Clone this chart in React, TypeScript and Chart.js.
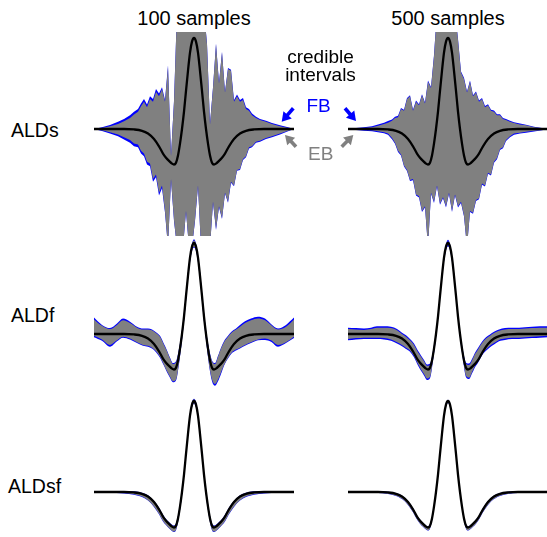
import React, { useEffect, useRef } from "react";
import { Chart, registerables } from "chart.js";

Chart.register(...registerables);

// ---------- shared x grids ----------
const xLine = [-100,-85,-70,-60,-52,-46,-40,-35,-31,-28,-25,-22,-20,-18,-16,-14,-12,-10,-8,-6,-4,-2,0,2,4,6,8,10,12,14,16,18,20,22,25,28,31,35,40,46,52,60,70,85,100];
const trueFilter = [0,0,0,-0.005,-0.02,-0.05,-0.11,-0.19,-0.27,-0.315,-0.35,-0.38,-0.39,-0.37,-0.29,-0.16,0.0,0.19,0.42,0.64,0.84,0.96,1.0,0.96,0.84,0.64,0.42,0.19,0.0,-0.16,-0.29,-0.37,-0.39,-0.38,-0.35,-0.315,-0.27,-0.19,-0.11,-0.05,-0.02,-0.005,0,0,0];

// ---------- ALDs (noisy) ----------
const xNoisy = [-100,-92,-84,-76,-70,-64,-60,-56,-53,-50,-47,-44,-41,-38,-35,-32,-29,-26,-23,-20,-17,-14,-11,-8,-5,-2,1,4,7,10,13,16,19,22,25,28,31,34,37,40,43,46,49,52,55,58,62,66,72,78,86,94,100];
const alds100EbUpper = [0,0.012,0.03,0.055,0.085,0.12,0.16,0.19,0.25,0.3,0.24,0.33,0.3,0.41,0.36,0.44,0.3,0.68,-0.3,0.3,1.3,1.3,1.3,1.3,1.3,1.3,1.3,1.3,1.3,1.3,0.93,0.05,0.45,0.93,0.5,0.84,0.4,0.66,0.64,0.3,0.36,0.3,0.32,0.22,0.2,0.15,0.12,0.1,0.08,0.055,0.03,0.012,0];
const alds100EbLower = [0,-0.015,-0.035,-0.06,-0.09,-0.12,-0.16,-0.17,-0.24,-0.27,-0.36,-0.38,-0.55,-0.5,-0.7,-0.62,-0.9,-1.3,-0.55,-1.0,-1.3,-1.3,-1.3,-0.9,-1.3,-1.3,-1.0,-0.62,-1.3,-1.3,-1.3,-1.3,-0.8,-1.1,-0.85,-0.98,-0.7,-0.8,-0.58,-0.62,-0.45,-0.44,-0.33,-0.3,-0.2,-0.19,-0.14,-0.13,-0.1,-0.08,-0.05,-0.02,0];
const alds100FbUpper = [0,0.02,0.045,0.08,0.11,0.15,0.19,0.22,0.28,0.33,0.27,0.36,0.33,0.44,0.39,0.46,0.32,0.7,-0.29,0.31,1.3,1.3,1.3,1.3,1.3,1.3,1.3,1.3,1.3,1.3,0.94,0.06,0.46,0.94,0.51,0.85,0.41,0.67,0.65,0.32,0.38,0.32,0.34,0.24,0.22,0.17,0.135,0.11,0.09,0.065,0.04,0.018,0];
const alds100FbLower = [0,-0.022,-0.05,-0.08,-0.115,-0.15,-0.19,-0.2,-0.27,-0.3,-0.39,-0.41,-0.58,-0.53,-0.73,-0.65,-0.92,-1.3,-0.56,-1.01,-1.3,-1.3,-1.3,-0.91,-1.3,-1.3,-1.01,-0.63,-1.3,-1.3,-1.3,-1.3,-0.81,-1.11,-0.86,-0.99,-0.71,-0.81,-0.59,-0.63,-0.46,-0.45,-0.34,-0.31,-0.215,-0.2,-0.15,-0.14,-0.11,-0.09,-0.06,-0.025,0];

const alds500EbUpper = [0,0.005,0.01,0.02,0.035,0.055,0.07,0.09,0.12,0.13,0.22,0.2,0.33,0.36,0.2,0.3,0.26,0.37,0.28,0.52,0.45,0.8,1.3,1.3,1.3,1.3,1.3,1.3,1.3,0.98,0.62,0.55,0.4,0.52,0.36,0.4,0.3,0.33,0.24,0.26,0.2,0.19,0.15,0.15,0.11,0.1,0.08,0.065,0.05,0.04,0.02,0.008,0];
const alds500EbLower = [0,-0.005,-0.01,-0.015,-0.025,-0.035,-0.05,-0.1,-0.15,-0.24,-0.28,-0.4,-0.45,-0.56,-0.55,-0.72,-0.74,-0.9,-0.85,-1.3,-0.7,-0.8,-0.62,-0.82,-0.75,-0.85,-0.7,-0.9,-0.72,-0.85,-0.8,-0.95,-1.3,-0.9,-0.92,-0.78,-0.76,-0.6,-0.62,-0.48,-0.5,-0.36,-0.32,-0.22,-0.2,-0.12,-0.08,-0.05,-0.04,-0.03,-0.02,-0.01,0];
const alds500FbUpper = [0,0.01,0.018,0.03,0.05,0.07,0.088,0.105,0.135,0.145,0.232,0.212,0.342,0.372,0.212,0.312,0.272,0.382,0.292,0.532,0.462,0.812,1.3,1.3,1.3,1.3,1.3,1.3,1.3,0.99,0.632,0.562,0.412,0.532,0.372,0.412,0.312,0.342,0.252,0.272,0.212,0.202,0.162,0.162,0.122,0.11,0.09,0.075,0.06,0.048,0.026,0.012,0];
const alds500FbLower = [0,-0.01,-0.018,-0.025,-0.037,-0.047,-0.062,-0.112,-0.162,-0.252,-0.292,-0.412,-0.462,-0.572,-0.562,-0.732,-0.752,-0.912,-0.862,-1.3,-0.712,-0.812,-0.632,-0.832,-0.762,-0.862,-0.712,-0.912,-0.732,-0.862,-0.812,-0.962,-1.3,-0.912,-0.932,-0.792,-0.772,-0.612,-0.632,-0.492,-0.512,-0.372,-0.332,-0.232,-0.212,-0.132,-0.092,-0.062,-0.05,-0.04,-0.028,-0.015,0];

// ---------- ALDf (wiggly) ----------
const xWiggle = [-100,-92,-84,-77,-71,-64,-57,-51,-46,-42,-38,-34,-30,-27,-24,-21,-18,-15,-12,-9,-6,-3,0,3,6,9,12,15,18,21,24,27,30,34,38,42,46,51,57,64,71,77,84,92,100];
const aldf100EbUpper = [0.16,0.09,0.055,0.1,0.15,0.12,0.07,0.05,0.05,0.04,0.01,-0.03,-0.12,-0.19,-0.27,-0.33,-0.31,-0.17,0.04,0.34,0.68,0.93,1.03,0.93,0.68,0.34,0.04,-0.17,-0.3,-0.33,-0.25,-0.16,-0.09,-0.03,0.02,0.05,0.08,0.12,0.15,0.17,0.15,0.1,0.05,0.08,0.16];
const aldf100EbLower = [-0.02,-0.06,-0.12,-0.07,-0.03,-0.05,-0.09,-0.12,-0.13,-0.15,-0.19,-0.25,-0.34,-0.41,-0.47,-0.52,-0.5,-0.32,-0.06,0.25,0.6,0.87,0.96,0.87,0.6,0.25,-0.06,-0.33,-0.5,-0.55,-0.5,-0.42,-0.34,-0.26,-0.2,-0.17,-0.15,-0.12,-0.09,-0.06,-0.05,-0.07,-0.12,-0.09,-0.03];
const aldf100FbUpper = [0.18,0.1,0.065,0.115,0.17,0.135,0.08,0.06,0.06,0.05,0.02,-0.02,-0.11,-0.18,-0.26,-0.32,-0.3,-0.16,0.05,0.35,0.69,0.94,1.04,0.94,0.69,0.35,0.05,-0.16,-0.29,-0.32,-0.24,-0.15,-0.08,-0.02,0.03,0.06,0.1,0.14,0.17,0.19,0.17,0.11,0.06,0.1,0.18];
const aldf100FbLower = [-0.035,-0.075,-0.14,-0.08,-0.04,-0.06,-0.1,-0.13,-0.14,-0.16,-0.2,-0.26,-0.35,-0.42,-0.48,-0.53,-0.51,-0.33,-0.07,0.24,0.59,0.86,0.95,0.86,0.59,0.24,-0.07,-0.34,-0.52,-0.57,-0.52,-0.44,-0.35,-0.27,-0.21,-0.18,-0.16,-0.13,-0.1,-0.07,-0.065,-0.085,-0.14,-0.1,-0.045];

const aldf500EbUpper = [0.055,0.05,0.045,0.055,0.07,0.07,0.065,0.04,0.0,-0.03,-0.07,-0.12,-0.2,-0.25,-0.3,-0.35,-0.34,-0.2,0.02,0.32,0.66,0.92,1.02,0.92,0.66,0.32,0.02,-0.2,-0.33,-0.34,-0.29,-0.22,-0.17,-0.1,-0.05,-0.02,0.01,0.035,0.05,0.055,0.055,0.06,0.065,0.07,0.07];
const aldf500EbLower = [-0.055,-0.045,-0.04,-0.04,-0.04,-0.045,-0.06,-0.09,-0.12,-0.15,-0.18,-0.24,-0.33,-0.39,-0.44,-0.49,-0.47,-0.28,-0.03,0.28,0.62,0.88,0.98,0.88,0.62,0.28,-0.03,-0.27,-0.46,-0.48,-0.42,-0.35,-0.3,-0.22,-0.17,-0.13,-0.1,-0.065,-0.05,-0.04,-0.04,-0.035,-0.03,-0.025,-0.02];
const aldf500FbUpper = [0.07,0.065,0.06,0.07,0.085,0.085,0.08,0.055,0.015,-0.015,-0.055,-0.105,-0.185,-0.235,-0.285,-0.335,-0.325,-0.185,0.035,0.335,0.675,0.935,1.035,0.935,0.675,0.335,0.035,-0.185,-0.315,-0.325,-0.275,-0.205,-0.155,-0.085,-0.035,-0.005,0.025,0.05,0.065,0.07,0.07,0.075,0.08,0.085,0.085];
const aldf500FbLower = [-0.07,-0.06,-0.055,-0.055,-0.055,-0.06,-0.075,-0.105,-0.135,-0.165,-0.195,-0.255,-0.345,-0.405,-0.455,-0.505,-0.485,-0.295,-0.045,0.265,0.605,0.865,0.965,0.865,0.605,0.265,-0.045,-0.285,-0.475,-0.495,-0.435,-0.365,-0.315,-0.235,-0.185,-0.145,-0.115,-0.08,-0.065,-0.055,-0.055,-0.05,-0.045,-0.04,-0.035];

// ---------- ALDsf (tight) ----------
const aldsf100EbUpper = [0.008,0.008,0.008,0.004,-0.012,-0.04,-0.1,-0.175,-0.255,-0.3,-0.335,-0.365,-0.372,-0.348,-0.262,-0.13,0.03,0.22,0.45,0.67,0.87,0.985,1.02,0.985,0.87,0.67,0.45,0.22,0.03,-0.13,-0.262,-0.348,-0.372,-0.365,-0.335,-0.3,-0.255,-0.175,-0.1,-0.04,-0.012,0.004,0.008,0.008,0.008];
const aldsf100EbLower = [-0.008,-0.008,-0.012,-0.025,-0.05,-0.09,-0.16,-0.24,-0.32,-0.36,-0.395,-0.425,-0.435,-0.415,-0.33,-0.2,-0.04,0.16,0.39,0.61,0.81,0.935,0.975,0.935,0.81,0.61,0.39,0.16,-0.04,-0.2,-0.33,-0.415,-0.435,-0.425,-0.395,-0.36,-0.32,-0.24,-0.16,-0.09,-0.05,-0.025,-0.012,-0.008,-0.008];
const aldsf100FbUpper = [0.012,0.012,0.012,0.008,-0.008,-0.036,-0.096,-0.171,-0.251,-0.296,-0.331,-0.361,-0.368,-0.344,-0.258,-0.126,0.034,0.224,0.454,0.674,0.874,0.989,1.024,0.989,0.874,0.674,0.454,0.224,0.034,-0.126,-0.258,-0.344,-0.368,-0.361,-0.331,-0.296,-0.251,-0.171,-0.096,-0.036,-0.008,0.008,0.012,0.012,0.012];
const aldsf100FbLower = [-0.012,-0.012,-0.016,-0.029,-0.054,-0.094,-0.164,-0.244,-0.324,-0.364,-0.399,-0.429,-0.439,-0.419,-0.334,-0.204,-0.044,0.156,0.386,0.606,0.806,0.931,0.971,0.931,0.806,0.606,0.386,0.156,-0.044,-0.204,-0.334,-0.419,-0.439,-0.429,-0.399,-0.364,-0.324,-0.244,-0.164,-0.094,-0.054,-0.029,-0.016,-0.012,-0.012];

const aldsf500EbUpper = [0.005,0.005,0.005,0.0,-0.014,-0.043,-0.102,-0.18,-0.26,-0.305,-0.34,-0.37,-0.378,-0.355,-0.275,-0.145,0.015,0.205,0.435,0.655,0.855,0.975,1.012,0.975,0.855,0.655,0.435,0.205,0.015,-0.145,-0.275,-0.355,-0.378,-0.37,-0.34,-0.305,-0.26,-0.18,-0.102,-0.043,-0.014,0.0,0.005,0.005,0.005];
const aldsf500EbLower = [-0.005,-0.005,-0.008,-0.018,-0.04,-0.075,-0.14,-0.22,-0.3,-0.345,-0.38,-0.41,-0.42,-0.4,-0.315,-0.18,-0.02,0.17,0.4,0.62,0.82,0.94,0.98,0.94,0.82,0.62,0.4,0.17,-0.02,-0.18,-0.315,-0.4,-0.42,-0.41,-0.38,-0.345,-0.3,-0.22,-0.14,-0.075,-0.04,-0.018,-0.008,-0.005,-0.005];
const aldsf500FbUpper = [0.008,0.008,0.008,0.003,-0.011,-0.04,-0.099,-0.177,-0.257,-0.302,-0.337,-0.367,-0.375,-0.352,-0.272,-0.142,0.018,0.208,0.438,0.658,0.858,0.978,1.015,0.978,0.858,0.658,0.438,0.208,0.018,-0.142,-0.272,-0.352,-0.375,-0.367,-0.337,-0.302,-0.257,-0.177,-0.099,-0.04,-0.011,0.003,0.008,0.008,0.008];
const aldsf500FbLower = [-0.008,-0.008,-0.011,-0.021,-0.043,-0.078,-0.143,-0.223,-0.303,-0.348,-0.383,-0.413,-0.423,-0.403,-0.318,-0.183,-0.023,0.167,0.397,0.617,0.817,0.937,0.977,0.937,0.817,0.617,0.397,0.167,-0.023,-0.183,-0.318,-0.403,-0.423,-0.413,-0.383,-0.348,-0.303,-0.223,-0.143,-0.078,-0.043,-0.021,-0.011,-0.008,-0.008];

const columnTitles = ["100 samples", "500 samples"];
const rowLabels = ["ALDs", "ALDf", "ALDsf"];

// ---------- layout ----------
const UNIT = 91;
const X_MIN = -100;
const X_MAX = 100;
const GRAY = "#808080";
const BLUE = "#0000ff";

type PanelDef = {
  cx: number; baseline: number; top: number; bottom: number;
  xs: number[]; ebU: number[]; ebL: number[]; fbU: number[]; fbL: number[];
  smooth: boolean;
};

const pts = (xs: number[], ys: number[]) => xs.map((x, i) => ({ x, y: ys[i] }));

function Panel({ def }: { def: PanelDef }) {
  const ref = useRef<HTMLCanvasElement>(null);
  const width = X_MAX - X_MIN;
  const height = def.bottom - def.top;
  const ymax = (def.baseline - def.top) / UNIT;
  const ymin = (def.baseline - def.bottom) / UNIT;
  useEffect(() => {
    if (!ref.current) return;
    const bandInterp = def.smooth ? "monotone" : "default";
    const clear = "rgba(0,0,0,0)";
    const chart = new Chart(ref.current, {
      type: "line",
      data: {
        datasets: [
          { data: pts(xLine, trueFilter), borderColor: "#000", borderWidth: 2.3, fill: false, pointRadius: 0, cubicInterpolationMode: "monotone" },
          { data: pts(def.xs, def.ebU), borderColor: clear, borderWidth: 1, backgroundColor: GRAY, fill: "+1", pointRadius: 0, cubicInterpolationMode: bandInterp, tension: 0 },
          { data: pts(def.xs, def.ebL), borderColor: clear, borderWidth: 1, fill: false, pointRadius: 0, cubicInterpolationMode: bandInterp, tension: 0 },
          { data: pts(def.xs, def.fbU), borderColor: clear, borderWidth: 1, backgroundColor: BLUE, fill: "+1", pointRadius: 0, cubicInterpolationMode: bandInterp, tension: 0 },
          { data: pts(def.xs, def.fbL), borderColor: clear, borderWidth: 1, fill: false, pointRadius: 0, cubicInterpolationMode: bandInterp, tension: 0 },
        ] as any,
      },
      options: {
        animation: false,
        responsive: false,
        maintainAspectRatio: false,
        events: [],
        layout: { padding: 0 },
        scales: {
          x: { type: "linear", min: X_MIN, max: X_MAX, display: false },
          y: { type: "linear", min: ymin, max: ymax, display: false },
        },
        plugins: { legend: { display: false }, tooltip: { enabled: false } },
      },
    });
    return () => chart.destroy();
  }, []);
  return (
    <canvas
      ref={ref}
      width={width}
      height={height}
      style={{ position: "absolute", left: Math.round(def.cx + X_MIN), top: def.top, width, height }}
    />
  );
}

const panels: PanelDef[] = [
  { cx: 194, baseline: 129, top: 32, bottom: 236, xs: xNoisy, ebU: alds100EbUpper, ebL: alds100EbLower, fbU: alds100FbUpper, fbL: alds100FbLower, smooth: false },
  { cx: 448, baseline: 129, top: 32, bottom: 236, xs: xNoisy, ebU: alds500EbUpper, ebL: alds500EbLower, fbU: alds500FbUpper, fbL: alds500FbLower, smooth: false },
  { cx: 194, baseline: 334, top: 225, bottom: 400, xs: xWiggle, ebU: aldf100EbUpper, ebL: aldf100EbLower, fbU: aldf100FbUpper, fbL: aldf100FbLower, smooth: true },
  { cx: 448, baseline: 334, top: 225, bottom: 400, xs: xWiggle, ebU: aldf500EbUpper, ebL: aldf500EbLower, fbU: aldf500FbUpper, fbL: aldf500FbLower, smooth: true },
  { cx: 194, baseline: 492, top: 390, bottom: 537, xs: xLine, ebU: aldsf100EbUpper, ebL: aldsf100EbLower, fbU: aldsf100FbUpper, fbL: aldsf100FbLower, smooth: true },
  { cx: 448, baseline: 492, top: 390, bottom: 537, xs: xLine, ebU: aldsf500EbUpper, ebL: aldsf500EbLower, fbU: aldsf500FbUpper, fbL: aldsf500FbLower, smooth: true },
];

function Arrow({ x1, y1, x2, y2, color }: { x1: number; y1: number; x2: number; y2: number; color: string }) {
  const dx = x2 - x1, dy = y2 - y1;
  const len = Math.hypot(dx, dy);
  const ux = dx / len, uy = dy / len;
  const head = 9, half = 5.5;
  const bx = x2 - ux * head, by = y2 - uy * head;
  const px = -uy, py = ux;
  return (
    <g>
      <line x1={x1} y1={y1} x2={bx + ux} y2={by + uy} stroke={color} strokeWidth={3.6} />
      <polygon points={`${x2},${y2} ${bx + px * half},${by + py * half} ${bx - px * half},${by - py * half}`} fill={color} />
    </g>
  );
}

const FONT = '"Liberation Sans", Arial, Helvetica, sans-serif';

export default function App() {
  const text = (s: string, style: React.CSSProperties) => (
    <div style={{ position: "absolute", fontFamily: FONT, fontSize: 19, lineHeight: "19px", whiteSpace: "nowrap", color: "#000", ...style }}>{s}</div>
  );
  return (
    <div style={{ position: "absolute", left: 0, top: 0, width: 547, height: 537, overflow: "hidden", background: "#fff" }}>
      {panels.map((p, i) => <Panel key={i} def={p} />)}
      {text(columnTitles[0], { left: 94, width: 200, textAlign: "center", top: 8, fontSize: 20, lineHeight: "20px" })}
      {text(columnTitles[1], { left: 348, width: 200, textAlign: "center", top: 8, fontSize: 20, lineHeight: "20px" })}
      {text(rowLabels[0], { left: 11, top: 120.5, fontSize: 19.5 })}
      {text(rowLabels[1], { left: 11, top: 306, fontSize: 19.5 })}
      {text(rowLabels[2], { left: 8, top: 477, fontSize: 19.5 })}
      {text("credible", { left: 270, width: 101, textAlign: "center", top: 47 })}
      {text("intervals", { left: 270, width: 101, textAlign: "center", top: 64.5 })}
      {text("FB", { left: 306.5, top: 95.5, color: BLUE })}
      {text("EB", { left: 308, top: 144, color: GRAY })}
      <svg width={547} height={537} style={{ position: "absolute", left: 0, top: 0 }}>
        <Arrow x1={293.3} y1={108.3} x2={281.7} y2={121.7} color={BLUE} />
        <Arrow x1={345} y1={108.3} x2={356} y2={121} color={BLUE} />
        <Arrow x1={296} y1={146.7} x2={285} y2={135} color={GRAY} />
        <Arrow x1={341.7} y1={146.7} x2={353.3} y2={135} color={GRAY} />
      </svg>
    </div>
  );
}
